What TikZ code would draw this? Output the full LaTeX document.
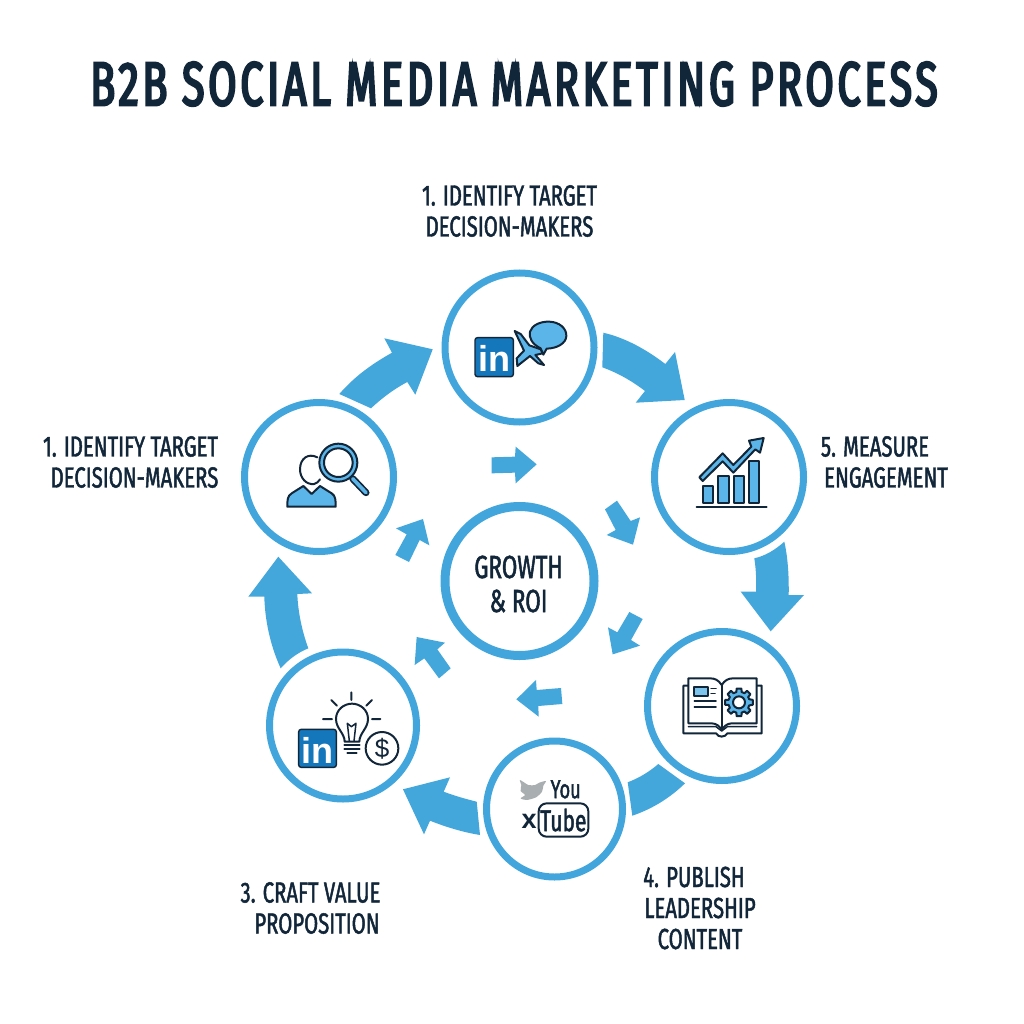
\documentclass[tikz,border=0pt]{standalone}
\usepackage{fontspec}
\setmainfont{Fira Sans}[FakeStretch=0.74]
\newfontfamily\logofont{Liberation Sans}
\newfontfamily\labelfont{Fira Sans}[FakeStretch=0.70,FakeBold=1.6]
\newfontfamily\titlefont{Fira Sans}[FakeStretch=0.66,LetterSpace=6.2,FakeBold=3.6]
\usetikzlibrary{calc}
\definecolor{ringblue}{HTML}{42A6DC}
\definecolor{arrowblue}{HTML}{43A7DC}
\definecolor{ink}{HTML}{12263A}
\definecolor{iconfill}{HTML}{5CB5E8}
\definecolor{logoblue}{HTML}{1577BB}
\definecolor{birdgrey}{HTML}{A9AEB1}
\tikzset{
  x=1pt,y=-1pt,
  ring/.style={circle,draw=ringblue,fill=white,line width=7pt,inner sep=0pt,minimum size=#1},
  blockarrow/.style={fill=arrowblue,draw=none},
  label/.style={text=ink,font=\labelfont\fontsize{29}{31}\selectfont,align=center,inner sep=0pt},
  centerlabel/.style={text=ink,font=\labelfont\fontsize{32}{33}\selectfont,align=center,inner sep=0pt},
  titletext/.style={text=ink,font=\titlefont\fontsize{62}{64}\selectfont,inner sep=0pt},
  icon/.style={draw=ink,line width=2pt,line join=round,line cap=round},
  iconthin/.style={draw=ink,line width=1.5pt,line join=round,line cap=round},
  zoomed/.style 2 args={shift={(#1,#2)},scale=0.33333}
}
\begin{document}
\begin{tikzpicture}
\useasboundingbox (0,0) rectangle (1024,1024);
\fill[white] (0,0) rectangle (1024,1024);

% title
\node[titletext] (title) at (514,84) {B2B SOCIAL MEDIA MARKETING PROCESS};

% rings
\node[ring=149pt] (top) at (519.5,347.5) {};
\node[ring=149pt] (left) at (319,477) {};
\node[ring=149pt] (right) at (729,477) {};
\node[ring=149pt] (book) at (722,706) {};
\node[ring=136pt] (tube) at (554.5,809) {};
\node[ring=147pt] (idea) at (343,725.5) {};
\node[ring=149pt,line width=9pt] (hub) at (519.5,581) {};

% hub text
\node[centerlabel] (hubtext) at (518.5,584) {GROWTH\\[1pt]\& ROI};

% labels
\node[label] (l1) at (509.5,211) {1. IDENTIFY TARGET\\DECISION-MAKERS};
\node[label] (l2) at (134.5,462) {\hspace*{-8pt}1. IDENTIFY TARGET\\DECISION-MAKERS};
\node[label] (l5) at (886,462) {5. MEASURE\hspace*{22pt}\\ENGAGEMENT};
\node[label] (l3) at (317,908) {3. CRAFT VALUE\hspace*{13pt}\\PROPOSITION};
\node[label] (l4) at (700,908) {4. PUBLISH\hspace*{12pt}\\LEADERSHIP\\CONTENT};

% outer block arrows
\fill[blockarrow] (339.3,394) .. controls (355,376) and (372,364) .. (392,352.7) -- (384.3,338.3) -- (432.7,349.3) -- (415.3,394.7) -- (407.3,382) .. controls (394,389) and (382,398) .. (371,408.3) -- cycle;
\fill[blockarrow] (603.3,332.7) .. controls (626,338) and (647,350) .. (665.3,364) -- (675,352) -- (684.7,400) -- (635.7,402.7) -- (645,391) .. controls (632,381) and (618,373) .. (602.3,367.3) -- cycle;
\fill[blockarrow] (784.3,541.7) .. controls (788,558) and (789,577) .. (788.7,595) -- (804,595) -- (770.7,631.3) -- (740.7,591.7) -- (756,591.7) .. controls (756.5,580) and (756,569) .. (754.3,558.3) .. controls (765,556) and (775,550) .. (784.3,541.7) -- cycle;
\fill[blockarrow] (658.3,764) -- (685,783.3) .. controls (670,798) and (652,809) .. (632.3,815.7) -- (627.7,782.3) .. controls (639,778) and (649,772) .. (658.3,764) -- cycle;
\fill[blockarrow] (403,789.3) -- (450,777.3) -- (443.7,791.7) .. controls (455,796) and (466,799) .. (476.7,801.7) -- (480,835) .. controls (462,832) and (446,827) .. (430,820.7) -- (424,834.3) -- cycle;
\fill[blockarrow] (278.3,556.7) -- (312,593.3) -- (297.3,594) .. controls (298,612) and (302,631) .. (308.3,648.3) .. controls (297,653) and (288,660) .. (280.7,668.3) .. controls (270,645) and (265,620) .. (264.3,596.7) -- (248.3,596.7) -- cycle;

% inner block arrows
\begin{scope}[zoomed={385}{440}]
\fill[blockarrow] (320,52) -- (390,50) -- (392,20) -- (455,73) -- (392,130) -- (390,98) -- (320,100) -- cycle;
\fill[blockarrow] (696,182) -- (737,243) -- (765,232) -- (744,314) -- (665,285) -- (692,270) -- (660,208) -- cycle;
\fill[blockarrow] (733,516) -- (773,537) -- (738,600) -- (765,617) -- (683,643) -- (669,562) -- (697,577) -- cycle;
\fill[blockarrow] (528,744) -- (532,792) -- (460,798) -- (461,830) -- (394,778) -- (453,720) -- (455,750) -- cycle;
\fill[blockarrow] (197,685) -- (162,715) -- (118,655) -- (89,675) -- (95,591) -- (180,608) -- (157,628) -- cycle;
\fill[blockarrow] (72,366) -- (31,345) -- (65,283) -- (33,265) -- (114,237) -- (133,316) -- (104,300) -- cycle;
\end{scope}

% icon: LinkedIn with plane and speech bubble
\begin{scope}[zoomed={430}{260}]
\draw[fill=logoblue,draw=ink,line width=1.4pt,rounded corners=2.5pt] (135,233) rectangle (250,350);
\node[text=white,font=\logofont\bfseries\fontsize{36}{36}\selectfont,inner sep=0pt] (in1) at (192,294) {in};
\draw[icon,fill=iconfill] (254,213) -- (272,222) -- (298,256) -- (332,268) -- (338,280) -- (316,285) -- (342,315) -- (325,310) -- (300,288) -- (262,318) -- (260,295) -- (282,272) -- cycle;
\draw[icon,fill=iconfill] (332,265) .. controls (305,252) and (296,232) .. (300,215) .. controls (306,195) and (332,184) .. (358,185) .. controls (388,186) and (410,205) .. (409,228) .. controls (408,250) and (382,265) .. (350,266) -- (340,284) -- cycle;
\end{scope}

% icon: person and magnifier
\begin{scope}[zoomed={240}{400}]
\draw[icon] (232,172) .. controls (205,158) and (180,175) .. (180,208) .. controls (180,235) and (200,255) .. (222,252) .. controls (230,250) and (236,245) .. (240,238);
\draw[icon,fill=iconfill] (142,320) .. controls (142,300) and (142,288) .. (155,280) -- (190,258) -- (215,282) -- (240,258) -- (275,280) .. controls (287,288) and (287,300) .. (287,320) -- cycle;
\draw[icon,line width=7pt] (338,236) -- (378,278);
\draw[draw=iconfill,line width=3.6pt,line cap=round] (338,236) -- (378,278);
\draw[icon,fill=iconfill] (295,188) circle[radius=57];
\draw[icon,fill=white] (295,188) circle[radius=43];
\end{scope}

% icon: growth chart
\begin{scope}[zoomed={650}{400}]
\draw[icon,fill=iconfill] (160,258) rectangle (190,308);
\draw[icon,fill=iconfill] (205,228) rectangle (236,308);
\draw[icon,fill=iconfill] (251,228) rectangle (282,308);
\draw[icon,fill=iconfill] (297,184) rectangle (327,308);
\draw[icon] (140,320) -- (350,320);
\draw[icon,fill=iconfill] (148,232) -- (218,160) -- (250,195) -- (304,140) -- (297,122) -- (341,114) -- (330,158) -- (316,148) -- (250,218) -- (218,184) -- (158,243) -- cycle;
\end{scope}

% icon: open book with gear
\begin{scope}[zoomed={640}{625}]
\draw[icon,fill=white] (145,182) -- (130,182) -- (130,325) -- (228,325) .. controls (235,338) and (255,338) .. (262,325) -- (365,325) -- (365,182) -- (350,182);
\draw[iconthin] (145,305) -- (228,305) -- (245,318) -- (262,305) -- (350,305);
\draw[icon,fill=white] (245,180) .. controls (235,165) and (225,160) .. (210,160) -- (145,160) -- (145,295) -- (215,295) .. controls (230,295) and (240,305) .. (245,315) .. controls (250,305) and (262,295) .. (275,295) -- (350,295) -- (350,160) -- (280,160) .. controls (265,160) and (255,165) .. (245,180) -- cycle;
\draw[icon] (245,180) -- (245,315);
\draw[icon,fill=iconfill!80] (163,187) rectangle (205,212);
\draw[iconthin] (213,190) -- (228,190) (213,205) -- (225,205) (163,228) -- (228,228) (163,246) -- (228,246);
\draw[icon,fill=iconfill,shift={(297,232)}]
  (-10:42) -- (10:42) -- (17:32)
  \foreach \a in {45,90,...,315} { -- ({\a-14}:32) -- ({\a-10}:42) -- ({\a+10}:42) -- ({\a+14}:32) }
  -- (-17:32) -- cycle;
\draw[icon,fill=white] (297,232) circle[radius=18];
\end{scope}

% icon: Twitter bird and YouTube marks
\begin{scope}[zoomed={480}{735}]
\fill[birdgrey] plot[smooth cycle,tension=0.45] coordinates {(120,135) (145,150) (165,150) (178,143) (198,138) (190,152) (186,170) (168,187) (140,195) (122,190) (135,180) (122,168) (124,150)};
\node[text=ink,font=\labelfont\fontsize{26}{26}\selectfont,inner sep=0pt] (you) at (257,163) {You};
\node[text=ink,font=\logofont\bfseries\fontsize{27}{27}\selectfont,inner sep=0pt] (xmark) at (147,258) {x};
\draw[draw=ink,line width=2pt,fill=white,rounded corners=8pt] (176,205) rectangle (325,305);
\node[text=ink,font=\labelfont\fontsize{30}{30}\selectfont,inner sep=0pt] (tubetext) at (250,255) {Tube};
\end{scope}

% icon: LinkedIn, bulb and dollar
\begin{scope}[zoomed={262}{645}]
\draw[fill=logoblue,draw=ink,line width=1.4pt,rounded corners=2.5pt] (110,253) rectangle (223,367);
\node[text=white,font=\logofont\bfseries\fontsize{36}{36}\selectfont,inner sep=0pt] (in2) at (167,315) {in};
\draw[icon] (248,290) .. controls (248,265) and (222,250) .. (222,222) .. controls (222,195) and (245,176) .. (270,176) .. controls (295,176) and (318,195) .. (318,222) .. controls (318,250) and (292,265) .. (292,290) -- cycle;
\draw[iconthin] (262,288) -- (256,235) -- (268,245) -- (282,235) -- (276,288);
\draw[icon] (247,300) -- (293,300) (247,312) -- (293,312) (256,323) -- (284,323);
\draw[icon] (268,142) -- (268,165) (208,165) -- (225,182) (330,165) -- (313,182) (183,222) -- (210,222) (330,222) -- (355,222);
\draw[icon,fill=white] (360,310) circle[radius=49];
\node[text=ink,font=\logofont\fontsize{26}{26}\selectfont,inner sep=0pt] (dollar) at (360,310) {\$};
\end{scope}
\end{tikzpicture}
\end{document}
